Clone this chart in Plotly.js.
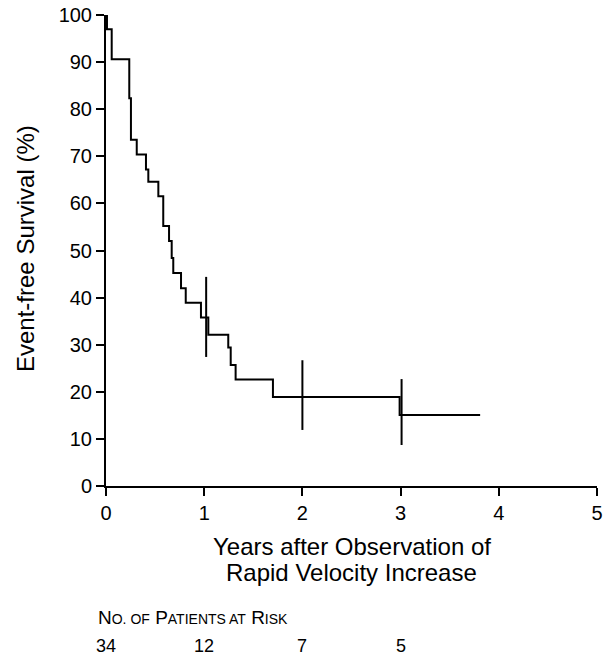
<!DOCTYPE html>
<html>
<head>
<meta charset="utf-8">
<script src="https://cdn.plot.ly/plotly-3.0.1.min.js"></script>
<style>html,body{margin:0;padding:0;background:#fff;}#chart{width:607px;height:655px;}</style>
</head>
<body>
<div id="chart"></div>
<script>
// Kaplan-Meier step curve (years, event-free survival %)
const stepYears = [0, 0.01, 0.058, 0.237, 0.254, 0.313, 0.407, 0.431, 0.533, 0.583, 0.642, 0.669, 0.685, 0.764, 0.812, 0.967, 1.042, 1.245, 1.27, 1.32, 1.70, 2.99, 3.81];
const stepSurvival = [100, 97.0, 90.6, 82.3, 73.5, 70.4, 67.2, 64.6, 61.5, 55.2, 52.0, 48.4, 45.2, 42.0, 38.9, 35.8, 32.1, 29.4, 25.7, 22.6, 18.9, 15.1, 15.1];

// Censoring marks (centre and half-height of each vertical tick, in % units)
const censorYears = [1.02, 2.0, 3.01];
const censorSurvival = [35.9, 19.3, 15.7];
const censorHalf = [8.5, 7.4, 7.0];

// Axis ticks
const xTickVals = [0, 1, 2, 3, 4, 5];
const yTickVals = [0, 10, 20, 30, 40, 50, 60, 70, 80, 90, 100];

// Number at risk, shown under the year ticks
const riskYears = [0, 1, 2, 3];
const riskCounts = ['34', '12', '7', '5'];

const FONT = 'Arial, "Liberation Sans", Helvetica, sans-serif';

const traces = [
  {
    x: stepYears, y: stepSurvival, type: 'scatter', mode: 'lines',
    line: {shape: 'hv', color: '#000', width: 2},
    hoverinfo: 'skip', showlegend: false
  },
  {
    x: censorYears, y: censorSurvival, type: 'scatter', mode: 'markers',
    marker: {size: 1, color: 'rgba(0,0,0,0)'},
    error_y: {type: 'data', symmetric: true, array: censorHalf, thickness: 2, width: 0, color: '#000'},
    hoverinfo: 'skip', showlegend: false
  }
];

// plot area: x 106..597 px, y 15..486 px
const plotL = 106, plotW = 491, plotB = 486, plotH = 471;
const px = v => (v - plotL) / plotW;
const py = v => (plotB - v) / plotH;

const annotations = [
  {text: 'Years after Observation of', xref: 'paper', yref: 'paper', x: 0.5, y: py(546),
   xanchor: 'center', yanchor: 'middle', showarrow: false, font: {family: FONT, size: 24, color: '#000'}},
  {text: 'Rapid Velocity Increase', xref: 'paper', yref: 'paper', x: 0.5, y: py(572),
   xanchor: 'center', yanchor: 'middle', showarrow: false, font: {family: FONT, size: 24, color: '#000'}},
  {text: 'Event-free Survival (%)', xref: 'paper', yref: 'paper', x: px(25), y: py(249),
   xanchor: 'center', yanchor: 'middle', textangle: -90, showarrow: false, font: {family: FONT, size: 24, color: '#000'}},
  {text: 'N<span style="font-size:14px">O. OF</span> P<span style="font-size:14px">ATIENTS AT</span> R<span style="font-size:14px">ISK</span>',
   xref: 'paper', yref: 'paper', x: px(96), y: py(617), xanchor: 'left', yanchor: 'middle', showarrow: false,
   font: {family: FONT, size: 19, color: '#000'}}
];
riskCounts.forEach((c, i) => {
  annotations.push({text: c, xref: 'x', yref: 'paper', x: riskYears[i], y: py(646),
    xanchor: 'center', yanchor: 'middle', showarrow: false, font: {family: FONT, size: 18, color: '#000'}});
});

const layout = {
  width: 607, height: 655,
  margin: {l: 106, r: 10, t: 15, b: 169, pad: 0},
  paper_bgcolor: '#fff', plot_bgcolor: '#fff',
  font: {family: FONT, color: '#000'},
  xaxis: {
    range: [0, 5], tickvals: xTickVals, ticktext: xTickVals.map(String),
    showgrid: false, zeroline: false, showline: true, linecolor: '#000', linewidth: 2,
    ticks: 'outside', ticklen: 8, tickwidth: 2, tickcolor: '#000',
    tickfont: {family: FONT, size: 20, color: '#000'}, fixedrange: true
  },
  yaxis: {
    range: [0, 100], tickvals: yTickVals, ticktext: yTickVals.map(String),
    showgrid: false, zeroline: false, showline: true, linecolor: '#000', linewidth: 2,
    ticks: 'outside', ticklen: 8, tickwidth: 2, tickcolor: '#000',
    tickfont: {family: FONT, size: 20, color: '#000'}, fixedrange: true
  },
  annotations: annotations,
  showlegend: false
};

Plotly.newPlot('chart', traces, layout, {displayModeBar: false, staticPlot: true});
</script>
</body>
</html>
